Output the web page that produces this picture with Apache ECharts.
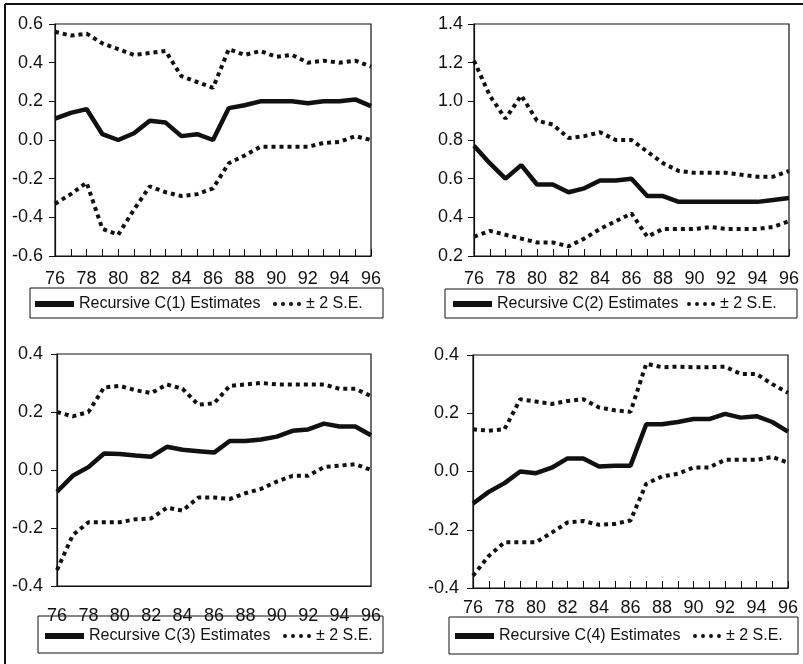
<!DOCTYPE html>
<html>
<head>
<meta charset="utf-8">
<script src="https://cdn.jsdelivr.net/npm/echarts@6/dist/echarts.min.js"></script>
<style>
  html, body { margin: 0; padding: 0; background: #fff; }
  #main { width: 803px; height: 664px; }
</style>
</head>
<body>
<div id="main"></div>
<script>
// years on the x axis
var years = [76,77,78,79,80,81,82,83,84,85,86,87,88,89,90,91,92,93,94,95,96];

// recursive coefficient estimates and +/- 2 S.E. bands
var c1   = [0.11,0.14,0.16,0.03,0.0,0.035,0.10,0.09,0.02,0.03,0.0,0.165,0.18,0.20,0.20,0.20,0.19,0.20,0.20,0.21,0.175];
var c1Up = [0.56,0.54,0.55,0.50,0.47,0.44,0.45,0.46,0.33,0.30,0.27,0.47,0.44,0.46,0.43,0.44,0.40,0.41,0.40,0.41,0.38];
var c1Lo = [-0.33,-0.28,-0.22,-0.46,-0.49,-0.36,-0.24,-0.27,-0.29,-0.28,-0.25,-0.12,-0.08,-0.035,-0.035,-0.035,-0.035,-0.015,-0.01,0.02,0.0];

var c2   = [0.77,0.68,0.60,0.67,0.57,0.57,0.53,0.55,0.59,0.59,0.60,0.51,0.51,0.48,0.48,0.48,0.48,0.48,0.48,0.49,0.50];
var c2Up = [1.21,1.03,0.91,1.03,0.90,0.88,0.81,0.82,0.84,0.80,0.80,0.74,0.68,0.64,0.63,0.63,0.63,0.62,0.61,0.61,0.64];
var c2Lo = [0.30,0.33,0.31,0.29,0.27,0.27,0.25,0.29,0.34,0.38,0.42,0.30,0.34,0.34,0.34,0.35,0.34,0.34,0.34,0.35,0.38];

var c3   = [-0.075,-0.02,0.01,0.057,0.055,0.05,0.046,0.08,0.07,0.065,0.06,0.10,0.10,0.105,0.115,0.135,0.14,0.16,0.15,0.15,0.12];
var c3Up = [0.20,0.185,0.20,0.285,0.29,0.275,0.265,0.295,0.28,0.225,0.23,0.29,0.295,0.30,0.295,0.295,0.295,0.295,0.28,0.28,0.255];
var c3Lo = [-0.345,-0.225,-0.18,-0.18,-0.18,-0.17,-0.167,-0.13,-0.14,-0.095,-0.095,-0.10,-0.08,-0.065,-0.04,-0.02,-0.02,0.01,0.015,0.02,0.0];

var c4   = [-0.11,-0.07,-0.04,0.0,-0.006,0.013,0.045,0.045,0.017,0.02,0.02,0.162,0.162,0.17,0.18,0.18,0.198,0.185,0.19,0.17,0.137];
var c4Up = [0.145,0.14,0.145,0.248,0.24,0.232,0.242,0.248,0.22,0.21,0.205,0.37,0.358,0.36,0.358,0.358,0.36,0.335,0.335,0.30,0.27];
var c4Lo = [-0.358,-0.29,-0.243,-0.243,-0.243,-0.21,-0.175,-0.17,-0.183,-0.18,-0.168,-0.042,-0.017,-0.008,0.014,0.014,0.04,0.04,0.04,0.05,0.03];

var mainNames = ['Recursive C(1) Estimates','Recursive C(2) Estimates','Recursive C(3) Estimates','Recursive C(4) Estimates'];
var seName = '\u00b1 2 S.E.';
var yRanges = [[-0.6,0.6],[0.2,1.4],[-0.4,0.4],[-0.4,0.4]];

var INK = '#111';
var FONT = 'Liberation Sans, Arial, sans-serif';
var DOTS = 'path://M0,2a2,2 0 1,0 4,0a2,2 0 1,0 -4,0M8,2a2,2 0 1,0 4,0a2,2 0 1,0 -4,0M16,2a2,2 0 1,0 4,0a2,2 0 1,0 -4,0M24,2a2,2 0 1,0 4,0a2,2 0 1,0 -4,0';

function pairs(vals) {
    return vals.map(function (v, i) { return [years[i], v]; });
}

// panel layout: plot boxes, label margins, legend placement
var panels = [
    {grid: {left: 55, top: 24, width: 316, height: 232}, yMargin: 12, xMargin: 14, xTicks: true,
     box: [30, 288, 353, 30], leg: [35, 78, 273, 303], mid: 303},
    {grid: {left: 474, top: 24, width: 315, height: 232}, yMargin: 11, xMargin: 14, xTicks: true,
     box: [445, 289, 352, 29], leg: [453, 494, 687, 718], mid: 303},
    {grid: {left: 57, top: 354, width: 314, height: 232}, yMargin: 14, xMargin: 21, xTicks: false,
     box: [38, 616, 345, 37], leg: [45, 87, 283, 318], mid: 635},
    {grid: {left: 473, top: 355, width: 315, height: 233}, yMargin: 14, xMargin: 11, xTicks: true,
     box: [449, 617, 349, 37], leg: [455, 497, 693, 724], mid: 635}
];
var mains = [c1, c2, c3, c4];
var ups = [c1Up, c2Up, c3Up, c4Up];
var los = [c1Lo, c2Lo, c3Lo, c4Lo];

var grids = [], xAxes = [], yAxes = [], series = [], legends = [], graphics = [];

panels.forEach(function (p, k) {
    grids.push(Object.assign({show: true, borderColor: INK, borderWidth: 1.2, backgroundColor: 'transparent'}, p.grid));
    xAxes.push({
        type: 'value', gridIndex: k, min: 76, max: 96, interval: 1,
        axisLine: {onZero: false, lineStyle: {color: INK, width: 1.2}},
        axisTick: {show: p.xTicks, inside: true, length: 7, lineStyle: {color: INK}},
        splitLine: {show: false},
        axisLabel: {
            margin: p.xMargin, color: INK, fontFamily: FONT, fontSize: 18,
            formatter: function (v) { return v % 2 === 0 ? String(v) : ''; }
        }
    });
    yAxes.push({
        type: 'value', gridIndex: k, min: yRanges[k][0], max: yRanges[k][1], interval: 0.2,
        axisLine: {show: true, onZero: false, lineStyle: {color: INK, width: 1.2}},
        axisTick: {show: true, inside: false, length: 6, lineStyle: {color: INK}},
        splitLine: {show: false},
        axisLabel: {
            margin: p.yMargin, color: INK, fontFamily: FONT, fontSize: 18,
            formatter: function (v) { return (Math.abs(v) < 1e-9 ? 0 : v).toFixed(1); }
        }
    });
    var band = {type: [4, 4], width: 4, color: INK};
    series.push({
        name: seName, type: 'line', xAxisIndex: k, yAxisIndex: k, data: pairs(ups[k]),
        symbol: 'none', lineStyle: band, itemStyle: {color: INK}
    });
    series.push({
        name: seName, type: 'line', xAxisIndex: k, yAxisIndex: k, data: pairs(los[k]),
        symbol: 'none', lineStyle: band, itemStyle: {color: INK}
    });
    series.push({
        name: mainNames[k], type: 'line', xAxisIndex: k, yAxisIndex: k, data: pairs(mains[k]),
        symbol: 'none', lineStyle: {width: 4.5, color: INK}, itemStyle: {color: INK}, z: 3
    });

    var txt = {color: INK, fontFamily: FONT, fontSize: 16};
    legends.push({
        left: p.leg[0], top: p.mid - 7, padding: 0, selectedMode: false, itemGap: 0,
        itemWidth: 39, itemHeight: 6, textStyle: txt,
        data: [{name: mainNames[k], icon: 'rect'}]
    });
    legends.push({
        left: p.leg[2], top: p.mid - 7, padding: 0, selectedMode: false, itemGap: 0,
        itemWidth: 28, itemHeight: 4, textStyle: txt,
        data: [{name: seName, icon: DOTS}]
    });
    graphics.push({
        type: 'rect', silent: true, z: -1,
        shape: {x: p.box[0], y: p.box[1], width: p.box[2], height: p.box[3]},
        style: {fill: '#fff', stroke: INK, lineWidth: 1}
    });
});

// page frame (top and left edges of the scanned figure)
graphics.push({type: 'line', silent: true, shape: {x1: 5, y1: 4, x2: 803, y2: 4}, style: {stroke: INK, lineWidth: 2}});
graphics.push({type: 'line', silent: true, shape: {x1: 5, y1: 4, x2: 5, y2: 664}, style: {stroke: INK, lineWidth: 2}});

var myChart = echarts.init(document.getElementById('main'), null, {renderer: 'canvas'});
myChart.setOption({
    animation: false,
    backgroundColor: '#fff',
    grid: grids,
    xAxis: xAxes,
    yAxis: yAxes,
    legend: legends,
    graphic: graphics,
    series: series
});
</script>
</body>
</html>
